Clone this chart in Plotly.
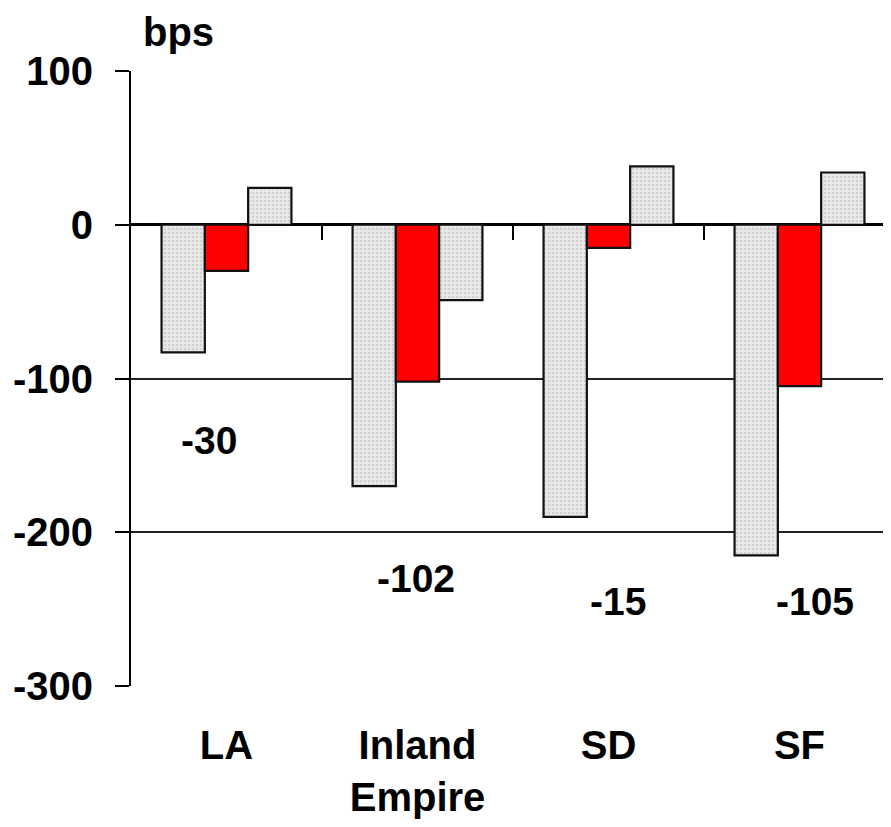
import plotly.graph_objects as go

categories = ["LA", "Inland<br>Empire", "SD", "SF"]
series_a = [-83, -170, -190, -215]
series_b = [-30, -102, -15, -105]
series_c = [24, -49, 38, 34]
label_text = ["-30", "-102", "-15", "-105"]
y_ticks = [100, 0, -100, -200, -300]
y_tick_text = ["100", "0", "-100", "-200", "-300"]

FONT = "Liberation Sans, Arial, sans-serif"
FS = 40
W, H = 875, 811
ML, MT, MB = 123, 63, 131
PLOT_W = W - ML
PLOT_H = H - MT - MB
CAT_PX = 191
XR = [-0.5, -0.5 + PLOT_W / CAT_PX]

grey_marker = dict(
    color="#e6e6e6",
    line=dict(color="#111111", width=2.2),
    pattern=dict(shape=".", fgcolor="#b8b8b8", bgcolor="#e9e9e9", size=4, solidity=0.35),
)

fig = go.Figure()
fig.add_trace(go.Bar(x=categories, y=series_a, marker=grey_marker, showlegend=False))
fig.add_trace(go.Bar(x=categories, y=series_b,
                     marker=dict(color="#ff0000", line=dict(color="#111111", width=2.2)),
                     showlegend=False))
fig.add_trace(go.Bar(x=categories, y=series_c, marker=grey_marker, showlegend=False))
# invisible trace to carry the boundary-tick axis at y=0
fig.add_trace(go.Scatter(x=[0], y=[0], xaxis="x2", mode="markers",
                         marker=dict(opacity=0), hoverinfo="skip", showlegend=False))

# value labels (positions are layout choices)
label_pos_x = [-0.09, 0.99, 2.05, 3.08]
label_pos_y = [-140, -230, -245, -245]
for i, t in enumerate(label_text):
    fig.add_annotation(x=label_pos_x[i], y=label_pos_y[i], text=t, showarrow=False,
                       xref="x", yref="y",
                       font=dict(family=FONT, size=39, color="black", weight="bold"))

fig.add_annotation(x=(170 - ML) / PLOT_W, y=1 + MT / PLOT_H,
                   xref="paper", yref="paper", text="bps", showarrow=False,
                   xanchor="center", yanchor="top",
                   font=dict(family=FONT, size=FS, color="black", weight="bold"))

fig.update_layout(
    width=W, height=H,
    margin=dict(l=ML, r=0, t=MT, b=MB, pad=0),
    paper_bgcolor="white", plot_bgcolor="white",
    barmode="group", bargap=0.32, bargroupgap=0,
    font=dict(family=FONT, size=FS, color="black", weight="bold"),
    xaxis=dict(type="category", range=XR, showgrid=False, zeroline=False,
               showline=False, ticks="", tickfont=dict(size=FS, weight="bold"),
               ticklabelstandoff=32),
    xaxis2=dict(overlaying="x", anchor="free", position=0.75, range=XR, type="linear",
                tickvals=[0.5, 1.5, 2.5], ticks="outside", ticklen=14, tickwidth=2,
                tickcolor="black", showticklabels=False, showgrid=False,
                zeroline=False, showline=False),
    yaxis=dict(range=[-300, 100], tickvals=y_ticks, ticktext=y_tick_text,
               ticks="outside", ticklen=14, ticklabelstandoff=14,
               tickwidth=2, tickcolor="black", showline=True, linecolor="black",
               linewidth=2, showgrid=True, gridcolor="#222222", gridwidth=2,
               zeroline=True, zerolinecolor="black", zerolinewidth=3,
               tickfont=dict(size=FS, weight="bold")),
)
fig.write_html("out.html")
